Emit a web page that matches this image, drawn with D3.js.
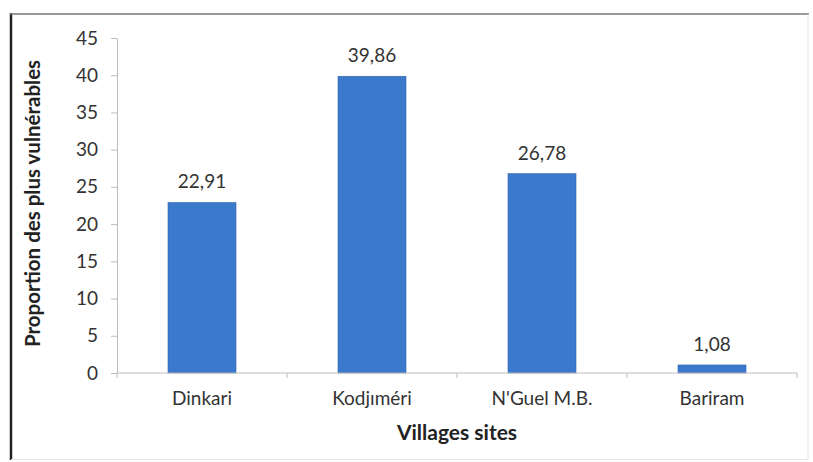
<!DOCTYPE html>
<html><head><meta charset="utf-8">
<script src="https://cdn.jsdelivr.net/npm/d3@7"></script>
<style>body{margin:0;background:#fff}svg{display:block}text{font-family:Lato,"Open Sans",sans-serif}</style>
</head><body>
<script>
const categories = ["Dinkari", "Kodjıméri", "N'Guel M.B.", "Bariram"];
const values = [22.91, 39.86, 26.78, 1.08];
const valueLabels = ["22,91", "39,86", "26,78", "1,08"];
const yTicks = [0, 5, 10, 15, 20, 25, 30, 35, 40, 45];
const xTitle = "Villages sites";
const yTitle = "Proportion des plus vulnérables";

const W = 813, H = 462;
const svg = d3.select("body").append("svg").attr("width", W).attr("height", H);
// frame
svg.append("line").attr("x1", 11).attr("x2", 11).attr("y1", 13).attr("y2", 460).attr("stroke", "#222").attr("stroke-width", 2.5);
svg.append("line").attr("x1", 10).attr("x2", 809).attr("y1", 14).attr("y2", 14).attr("stroke", "#777").attr("stroke-width", 1.5);
svg.append("line").attr("x1", 808).attr("x2", 808).attr("y1", 14).attr("y2", 460).attr("stroke", "#e4e4e4").attr("stroke-width", 1);
svg.append("line").attr("x1", 11).attr("x2", 808).attr("y1", 459.5).attr("y2", 459.5).attr("stroke", "#e8e8e8").attr("stroke-width", 1);

const x0 = 117, x1 = 797, yTop = 38, yBot = 373;
const x = d3.scaleBand().domain(categories).range([x0, x1]).paddingInner(0.6).paddingOuter(0.3);
const y = d3.scaleLinear().domain([0, 45]).range([yBot, yTop]);

// bars
svg.selectAll("rect.bar").data(values).join("rect").attr("class", "bar")
  .attr("x", (d, i) => x(categories[i])).attr("width", x.bandwidth())
  .attr("y", d => y(d)).attr("height", d => y(0) - y(d))
  .attr("fill", "#3b79cc").attr("stroke", "#3567ad").attr("stroke-width", 0.6);

// y axis
const yAxis = svg.append("g").attr("transform", `translate(${x0},0)`)
  .call(d3.axisLeft(y).tickValues(yTicks).tickSize(6).tickPadding(13));
yAxis.select(".domain").attr("stroke", "#bdbdbd");
yAxis.selectAll(".tick line").attr("stroke", "#bdbdbd");
yAxis.selectAll("text").attr("font-size", 19).attr("fill", "#333").style("font-family", "Lato, sans-serif");

// x axis
const xAxis = svg.append("g").attr("transform", `translate(0,${yBot})`)
  .call(d3.axisBottom(x).tickSize(0).tickPadding(19));
xAxis.select(".domain").attr("stroke", "#bdbdbd").attr("d", `M${x0},0H${x1}`);
xAxis.selectAll("text").attr("font-size", 19).attr("fill", "#333").style("font-family", "Lato, sans-serif");
// boundary ticks
const bounds = d3.range(categories.length + 1).map(i => x0 + i * x.step());
svg.append("g").selectAll("line").data(bounds).join("line")
  .attr("x1", d => d).attr("x2", d => d).attr("y1", yBot).attr("y2", yBot + 5)
  .attr("stroke", "#bdbdbd");

// value labels
svg.selectAll("text.val").data(values).join("text").attr("class", "val")
  .attr("x", (d, i) => x(categories[i]) + x.bandwidth() / 2)
  .attr("y", d => y(d) - 14).attr("text-anchor", "middle")
  .attr("font-size", 19).attr("fill", "#333")
  .text((d, i) => valueLabels[i]);

// titles
svg.append("text").attr("x", (x0 + x1) / 2).attr("y", 440).attr("text-anchor", "middle")
  .attr("font-size", 21).attr("font-weight", "bold").attr("fill", "#222").text(xTitle);
svg.append("text").attr("transform", `translate(40,${(yTop + yBot) / 2 - 2}) rotate(-90)`)
  .attr("text-anchor", "middle").attr("font-size", 20.5).attr("font-weight", "bold").attr("fill", "#222").text(yTitle);
</script>
</body></html>
